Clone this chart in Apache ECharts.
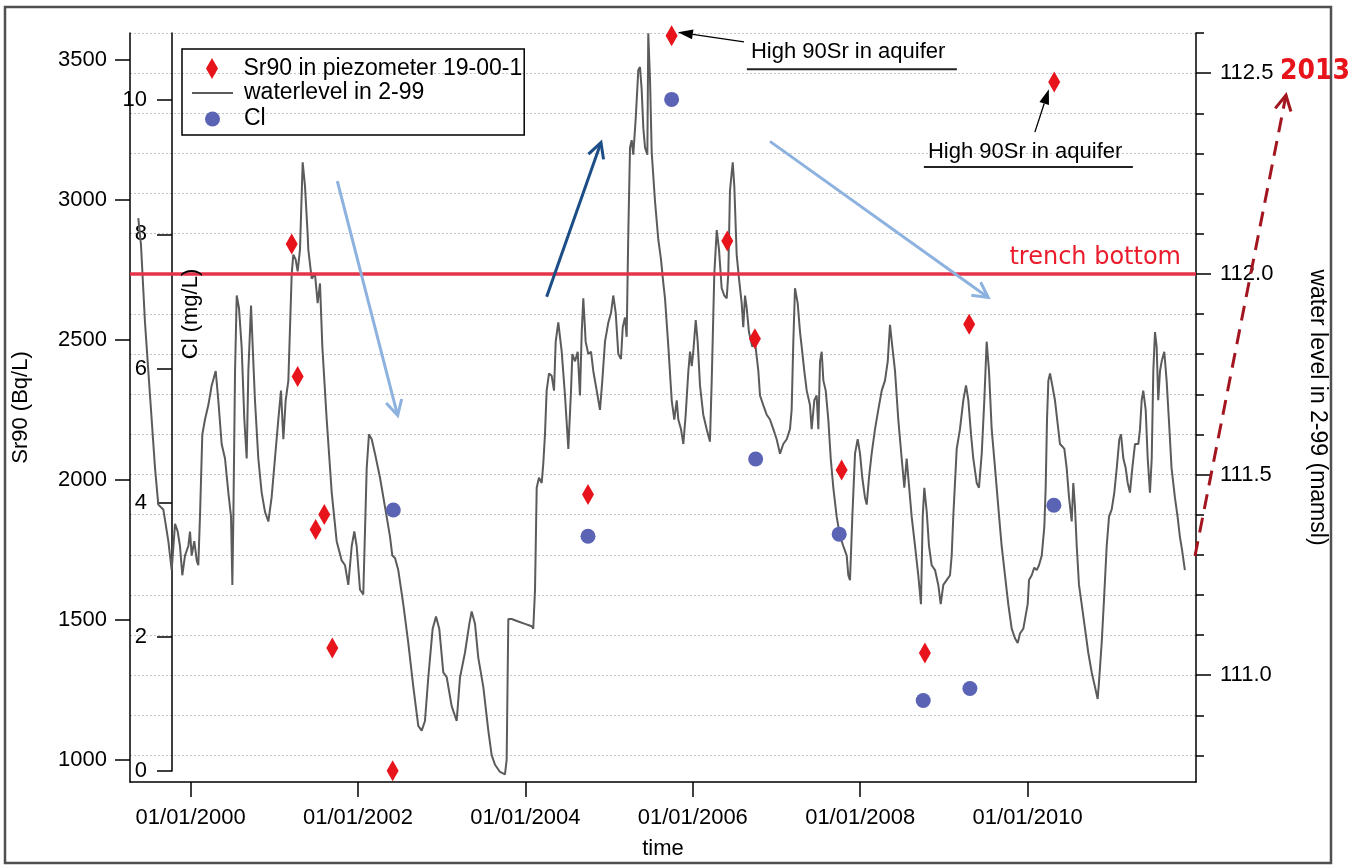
<!DOCTYPE html>
<html><head><meta charset="utf-8">
<script src="https://cdn.jsdelivr.net/npm/echarts@6/dist/echarts.min.js"></script>
<style>html,body{margin:0;padding:0;background:#fff}#c{width:1350px;height:866px}</style>
</head><body><div id="c"></div><script>
// ---------- data (decimal years) ----------
const wlYears = [
1999.375,1999.407,1999.455,1999.515,1999.575,1999.614,1999.674,1999.734,1999.774,1999.814,1999.846,1999.873,1999.901,1999.933,1999.973,1999.993,
2000.013,2000.044,2000.073,2000.092,2000.112,2000.140,2000.172,2000.212,2000.252,2000.300,2000.331,2000.371,2000.411,2000.451,2000.483,2000.499,2000.511,2000.531,2000.551,2000.578,2000.610,2000.642,2000.670,2000.690,2000.722,2000.742,2000.769,2000.809,2000.849,2000.889,2000.929,2000.968,
2001.008,2001.048,2001.080,2001.108,2001.136,2001.168,2001.208,2001.227,2001.255,2001.279,2001.307,2001.339,2001.367,2001.399,2001.406,2001.447,2001.486,2001.518,2001.546,2001.574,2001.626,2001.686,2001.745,2001.805,2001.845,2001.884,2001.925,2001.956,2001.984,
2002.024,2002.063,2002.104,2002.131,2002.164,2002.203,2002.263,2002.323,2002.382,2002.410,2002.442,2002.481,2002.541,2002.601,2002.661,2002.720,2002.761,2002.800,2002.840,2002.892,2002.932,2002.971,
2003.019,2003.060,2003.119,2003.179,2003.219,2003.278,2003.330,2003.358,2003.398,2003.437,2003.497,2003.557,2003.597,2003.637,2003.697,2003.756,2003.776,2003.796,2003.836,2003.915,2003.995,
2004.075,2004.094,2004.115,2004.135,2004.162,2004.195,2004.214,2004.234,2004.254,2004.282,2004.314,2004.342,2004.362,2004.393,2004.434,2004.473,2004.513,2004.545,2004.561,2004.593,2004.625,2004.652,2004.673,2004.692,2004.720,2004.752,2004.784,2004.811,2004.852,2004.891,2004.919,2004.951,2004.991,
2005.023,2005.050,2005.079,2005.110,2005.142,2005.163,2005.190,2005.210,2005.229,2005.250,2005.270,2005.289,2005.318,2005.349,2005.369,2005.389,2005.409,2005.429,2005.457,2005.468,2005.489,2005.509,2005.548,2005.588,2005.620,2005.648,2005.668,2005.708,2005.748,2005.779,2005.808,2005.827,2005.859,2005.887,2005.915,2005.947,2005.967,2005.987,
2006.006,2006.035,2006.058,2006.086,2006.125,2006.166,2006.205,2006.226,2006.257,2006.286,2006.313,2006.345,2006.376,2006.405,2006.424,2006.444,2006.477,2006.496,2006.524,2006.552,2006.584,2006.603,2006.624,2006.644,2006.671,2006.711,2006.743,2006.783,2006.803,2006.842,2006.883,2006.922,2006.962,
2007.002,2007.042,2007.081,2007.122,2007.161,2007.181,2007.201,2007.221,2007.253,2007.281,2007.301,2007.332,2007.361,2007.400,2007.420,2007.452,2007.480,2007.500,2007.520,2007.540,2007.560,2007.588,2007.619,2007.648,2007.679,2007.719,2007.759,2007.798,2007.839,2007.858,2007.878,2007.906,2007.938,2007.970,2007.998,
2008.025,2008.057,2008.078,2008.105,2008.137,2008.177,2008.216,2008.257,2008.296,2008.329,2008.356,2008.384,2008.416,2008.455,2008.496,2008.527,2008.555,2008.575,2008.615,2008.655,2008.694,2008.726,2008.747,2008.766,2008.795,2008.822,2008.854,2008.894,2008.933,2008.962,2008.993,
2009.033,2009.073,2009.093,2009.112,2009.153,2009.192,2009.232,2009.264,2009.292,2009.324,2009.351,2009.392,2009.419,2009.452,2009.483,2009.511,2009.539,2009.571,2009.611,2009.650,2009.690,2009.730,2009.769,2009.810,2009.849,2009.882,2009.909,2009.949,
2010.001,2010.017,2010.049,2010.080,2010.109,2010.136,2010.169,2010.200,2010.216,2010.232,2010.248,2010.268,2010.295,2010.327,2010.360,2010.387,2010.415,2010.439,2010.467,2010.495,2010.527,2010.546,2010.566,2010.587,2010.614,2010.646,2010.686,2010.725,2010.766,2010.805,2010.837,2010.853,2010.885,2010.916,2010.945,2010.973,
2011.005,2011.036,2011.065,2011.096,2011.116,2011.144,2011.172,2011.196,2011.223,2011.251,2011.283,2011.323,2011.343,2011.363,2011.382,2011.411,2011.435,2011.462,2011.483,2011.502,2011.522,2011.542,2011.561,2011.582,2011.602,2011.633,2011.661,2011.688,2011.720,2011.760,2011.792,2011.819,2011.847,2011.879
];
const wlLevels = [
112.139,112.073,111.879,111.697,111.516,111.425,111.413,111.334,111.262,111.377,111.358,111.322,111.249,111.298,111.322,111.358,
111.298,111.334,111.286,111.274,111.395,111.600,111.637,111.673,111.722,111.758,111.685,111.576,111.540,111.455,111.395,111.225,111.395,111.758,111.946,111.915,111.818,111.637,111.540,111.758,111.921,111.818,111.685,111.540,111.455,111.407,111.383,111.443,
111.540,111.637,111.709,111.588,111.685,111.734,112.000,112.048,112.036,112.006,112.061,112.278,112.218,112.097,112.061,111.988,112.000,111.927,111.976,111.818,111.637,111.455,111.334,111.286,111.274,111.225,111.322,111.358,111.322,
111.213,111.201,111.516,111.600,111.588,111.552,111.492,111.419,111.346,111.298,111.292,111.262,111.177,111.080,110.971,110.874,110.862,110.886,110.995,111.116,111.146,111.116,
111.007,110.995,110.923,110.886,110.995,111.056,111.128,111.159,111.128,111.044,110.971,110.862,110.801,110.777,110.759,110.753,110.789,111.140,111.140,111.134,111.128,
111.122,111.116,111.213,111.467,111.492,111.479,111.528,111.600,111.709,111.752,111.746,111.709,111.831,111.879,111.806,111.697,111.564,111.709,111.800,111.782,111.806,111.697,111.855,111.939,111.831,111.800,111.806,111.758,111.709,111.661,111.734,111.831,111.879,
111.903,111.946,111.903,111.800,111.788,111.867,111.891,111.843,112.097,112.315,112.333,112.297,112.387,112.508,112.515,112.460,112.363,112.315,112.297,112.599,112.484,112.303,112.182,112.085,112.036,111.976,111.939,111.818,111.685,111.637,111.685,111.637,111.613,111.576,111.649,111.758,111.806,111.770,
111.806,111.885,111.831,111.722,111.649,111.613,111.582,111.734,112.000,112.109,112.061,111.964,111.946,111.939,112.000,112.206,112.278,112.218,112.048,111.988,111.927,111.867,111.946,111.915,111.855,111.818,111.831,111.758,111.697,111.673,111.649,111.637,111.613,
111.588,111.552,111.576,111.588,111.613,111.661,111.831,111.964,111.927,111.855,111.818,111.758,111.709,111.673,111.613,111.685,111.697,111.613,111.782,111.806,111.734,111.709,111.637,111.540,111.467,111.395,111.346,111.322,111.298,111.249,111.237,111.395,111.552,111.588,111.552,
111.492,111.443,111.425,111.492,111.552,111.613,111.661,111.709,111.734,111.782,111.873,111.818,111.758,111.637,111.540,111.467,111.540,111.492,111.395,111.322,111.249,111.177,111.395,111.467,111.407,111.322,111.274,111.262,111.225,111.177,111.225,
111.237,111.249,111.298,111.395,111.564,111.613,111.685,111.722,111.685,111.600,111.540,111.479,111.467,111.552,111.685,111.831,111.758,111.613,111.516,111.419,111.322,111.249,111.177,111.116,111.092,111.080,111.104,111.116,
111.177,111.237,111.249,111.268,111.262,111.274,111.298,111.370,111.467,111.637,111.734,111.752,111.722,111.685,111.625,111.576,111.570,111.564,111.516,111.443,111.383,111.479,111.419,111.322,111.225,111.177,111.116,111.056,111.007,110.971,110.941,110.983,111.080,111.201,111.322,111.395,
111.413,111.455,111.516,111.588,111.600,111.540,111.516,111.479,111.455,111.516,111.576,111.576,111.613,111.685,111.709,111.661,111.540,111.455,111.540,111.758,111.855,111.818,111.685,111.758,111.782,111.806,111.734,111.637,111.516,111.443,111.395,111.346,111.310,111.262
];
const sr90Years  = [2001.208,2001.279,2001.494,2001.597,2001.693,2002.414,2004.748,2005.747,2006.412,2006.742,2007.778,2008.773,2009.302,2010.318];
const sr90Values = [2841,2368,1822,1875,1399,960,1947,3585,2852,2503,2034,1381,2555,3420];
const clYears  = [2002.422,2004.748,2005.747,2006.751,2007.749,2008.753,2009.311,2010.314];
const clValues = [3.89,3.50,10.01,4.65,3.53,1.05,1.23,3.96];

// ---------- tick labels ----------
const yearTicks  = [2000,2002,2004,2006,2008,2010];
const sr90Ticks  = [1000,1500,2000,2500,3000,3500];
const clTicks    = [0,2,4,6,8,10];
const wlMajor    = [111.0,111.5,112.0,112.5];
const wlMinor    = [110.8,110.9,111.0,111.1,111.2,111.3,111.4,111.5,111.6,111.7,111.8,111.9,112.0,112.1,112.2,112.3,112.4,112.5,112.6];
const trenchBottom = 112.0;

// annotation anchor points in [year, water level] space
const annLightArrow1 = [[2001.753,112.231],[2002.474,111.647]];
const annDarkArrow   = [[2004.254,111.943],[2004.903,112.327]];
const annLightArrow2 = [[2006.922,112.330],[2009.529,111.941]];
const annDashArrow   = [[2012.000,111.297],[2013.087,112.445]];
const ann2013        = [2013.016,112.503];
const annHigh1 = {text:[2006.694,112.553], ul:[[2006.646,112.510],[2009.155,112.510]], arrow:[[2006.611,112.578],[2005.822,112.602]]};
const annHigh2 = {text:[2008.809,112.303], ul:[[2008.761,112.266],[2011.258,112.266]], arrow:[[2010.087,112.353],[2010.254,112.460]]};

const FONT = '"Liberation Sans", Arial, sans-serif';
const chart = echarts.init(document.getElementById('c'), null, {renderer:'canvas'});
const black = {color:'#000', width:1.5};
const xMin = 1999.276, xMax = 2012.012;
const lbl = {color:'#000', fontSize:22, fontFamily:FONT};
const legText = {color:'#000', fontSize:23, fontFamily:FONT, lineHeight:21, padding:[0,0,0,6]};

chart.setOption({
  animation:false,
  backgroundColor:'#fff',
  grid:[
    {left:130, right:154, top:33, bottom:84},
    {left:130, right:154, top:33, bottom:95}
  ],
  legend:[
    {data:['Sr90 in piezometer 19-00-1'], left:182, top:49, orient:'vertical', padding:[8,2,55,24],
     itemWidth:41, itemHeight:21, borderColor:'#000', borderWidth:1.5, selectedMode:false,
     icon:'path://M6,0L12,10.5L6,21L0,10.5Z', itemStyle:{opacity:1},
     textStyle:legText},
    {data:['waterlevel in 2-99'], left:191, top:81.5, orient:'vertical', padding:0,
     itemWidth:41, itemHeight:14, selectedMode:false, itemStyle:{opacity:0},
     textStyle:legText},
    {data:['Cl'], left:205, top:107.5, orient:'vertical', padding:0,
     itemWidth:41, itemHeight:15, selectedMode:false, icon:'circle', itemStyle:{opacity:1},
     textStyle:legText}
  ],
  xAxis:[
    {type:'value', gridIndex:0, min:xMin, max:xMax,
     name:'time', nameLocation:'middle', nameGap:56, nameTextStyle:lbl,
     axisLine:{show:true, lineStyle:black},
     axisTick:{show:true, customValues:yearTicks, length:15, lineStyle:black},
     axisLabel:{customValues:yearTicks, margin:25, ...lbl, formatter:v=>'01/01/'+Math.round(v)},
     splitLine:{show:false}},
    {type:'value', gridIndex:1, min:xMin, max:xMax, show:false}
  ],
  yAxis:[
    {type:'value', gridIndex:0, position:'left', min:920, max:3595,
     name:'Sr90 (Bq/L)', nameLocation:'middle', nameRotate:90, nameGap:98, nameTextStyle:lbl,
     axisLine:{show:true, lineStyle:black},
     axisTick:{show:true, customValues:sr90Ticks, length:15, lineStyle:black},
     axisLabel:{customValues:sr90Ticks, margin:23, ...lbl, formatter:v=>String(v)},
     splitLine:{show:false}},
    {type:'value', gridIndex:0, position:'right', min:110.734, max:112.6,
     name:'water level in 2-99 (mamsl)', nameLocation:'middle', nameRotate:-90, nameGap:110,
     nameTextStyle:{color:'#000', fontSize:23, fontFamily:FONT},
     axisLine:{show:true, lineStyle:black},
     axisTick:{show:true, customValues:wlMajor, length:15, lineStyle:black},
     axisLabel:{customValues:wlMajor, margin:24, ...lbl, formatter:v=>v.toFixed(1)},
     splitLine:{show:false}},
    {type:'value', gridIndex:0, position:'right', min:110.734, max:112.6,
     axisLine:{show:false},
     axisTick:{show:true, customValues:wlMinor, length:8, lineStyle:black},
     axisLabel:{show:false},
     splitLine:{show:true, lineStyle:{color:'#c4c4c4', width:1, type:[2,2]}}},
    {type:'value', gridIndex:1, position:'left', offset:-42, min:0, max:11, interval:2,
     axisLine:{show:true, lineStyle:black},
     axisTick:{show:true, customValues:clTicks, length:15, lineStyle:black},
     axisLabel:{customValues:clTicks, margin:25, ...lbl, formatter:v=>String(v)},
     splitLine:{show:false}}
  ],
  series:[
    {name:'waterlevel in 2-99', type:'line', xAxisIndex:0, yAxisIndex:1, symbol:'none', z:3,
     lineStyle:{color:'#5b5b5b', width:2}, itemStyle:{color:'#5b5b5b'},
     data: wlYears.map((t,i)=>[t, wlLevels[i]]),
     markLine:{silent:true, symbol:['none','none'], z:6,
       lineStyle:{color:'#e5344a', width:3.5, type:'solid'},
       label:{show:true, position:'insideEndTop', formatter:'trench bottom', color:'#ea1c2c',
              fontSize:24, fontFamily:'"DejaVu Sans", sans-serif', distance:[15,4]},
       data:[{yAxis:trenchBottom}]}},
    {name:'Sr90 in piezometer 19-00-1', type:'scatter', xAxisIndex:0, yAxisIndex:0, z:5, clip:false,
     symbol:'diamond', symbolSize:[12,21], itemStyle:{color:'#e8141c', opacity:1},
     data: sr90Years.map((t,i)=>[t, sr90Values[i]])},
    {name:'Cl', type:'scatter', xAxisIndex:1, yAxisIndex:3, z:5, clip:false,
     symbol:'circle', symbolSize:15, itemStyle:{color:'#5b63b5', opacity:1},
     data: clYears.map((t,i)=>[t, clValues[i]])}
  ]
});

// ---------- annotations (positions from the chart's own scales) ----------
function px(p){ return chart.convertToPixel({xAxisIndex:0, yAxisIndex:1}, p); }
function head(a, b, len, half){
  const dx=b[0]-a[0], dy=b[1]-a[1], L=Math.hypot(dx,dy), ux=dx/L, uy=dy/L;
  const bx=b[0]-ux*len, by=b[1]-uy*len;
  return [[bx-uy*half, by+ux*half], b, [bx+uy*half, by-ux*half]];
}
function chevronArrow(seg, color, dash){
  const a=px(seg[0]), b=px(seg[1]);
  return [
    {type:'polyline', z:20, shape:{points:[a,b]}, style:{stroke:color, lineWidth:3, fill:null, lineDash:dash||null, lineCap:'butt'}},
    {type:'polyline', z:20, shape:{points:head(a,b,15,8)}, style:{stroke:color, lineWidth:3, fill:null, lineJoin:'miter'}}
  ];
}
function blackArrow(seg){
  const a=px(seg[0]), b=px(seg[1]);
  const h=head(a,b,15,5);
  const base=[(h[0][0]+h[2][0])/2,(h[0][1]+h[2][1])/2];
  return [
    {type:'polyline', z:20, shape:{points:[a,base]}, style:{stroke:'#000', lineWidth:1.3, fill:null}},
    {type:'polygon', z:20, shape:{points:h}, style:{fill:'#000'}}
  ];
}
function highNote(n){
  const t=px(n.text), u0=px(n.ul[0]), u1=px(n.ul[1]);
  return [
    {type:'text', z:20, x:t[0], y:t[1], style:{text:'High 90Sr in aquifer', font:'22px '+FONT, fill:'#000', align:'left', verticalAlign:'middle'}},
    {type:'line', z:20, shape:{x1:u0[0], y1:u0[1], x2:u1[0], y2:u1[1]}, style:{stroke:'#222', lineWidth:2}},
    ...blackArrow(n.arrow)
  ];
}
const p2013 = px(ann2013);
chart.setOption({graphic:[
  {type:'rect', z:30, silent:true, shape:{x:5, y:7, width:1326, height:856}, style:{fill:null, stroke:'#505050', lineWidth:2.5}},
  {type:'text', z:20, x:191, y:314, rotation:Math.PI/2,
   style:{text:'Cl (mg/L)', font:'22px '+FONT, fill:'#000', align:'center', verticalAlign:'middle'}},
  ...chevronArrow(annLightArrow1, '#8db2df'),
  ...chevronArrow(annDarkArrow, '#1c4d86'),
  ...chevronArrow(annLightArrow2, '#8db2df'),
  ...chevronArrow(annDashArrow, '#a3161f', [15,9]),
  {type:'text', z:20, x:p2013[0], y:p2013[1],
   style:{text:'2013', font:'bold 28px "DejaVu Sans Condensed", "DejaVu Sans", sans-serif', fill:'#e8141c', align:'left', verticalAlign:'middle'}},
  ...highNote(annHigh1),
  ...highNote(annHigh2)
]});
</script></body></html>
